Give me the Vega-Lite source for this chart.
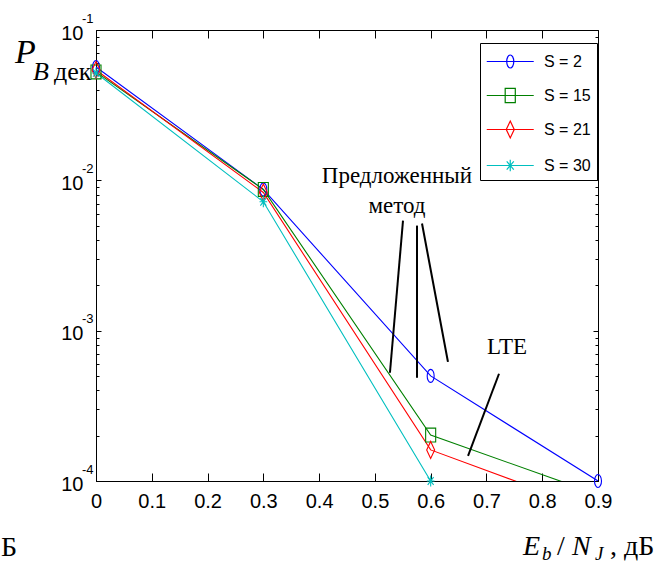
{
  "$schema": "https://vega.github.io/schema/vega-lite/v6.json",
  "width": 502,
  "height": 451,
  "autosize": "none",
  "padding": {"left": 96, "top": 30, "right": 69, "bottom": 88},
  "background": "white",
  "config": {
    "view": {"stroke": "black", "strokeWidth": 1},
    "axis": {
      "grid": false,
      "title": null,
      "domainColor": "black",
      "tickColor": "black",
      "labelColor": "black",
      "labelFont": "'Liberation Sans', Arial, sans-serif",
      "labelFontSize": 20,
      "labelFlush": false,
      "labelOverlap": false
    }
  },
  "datasets": {
    "curves": [
      {"s": "S = 2", "x": 0, "y": 0.0567},
      {"s": "S = 2", "x": 0.3, "y": 0.0087},
      {"s": "S = 2", "x": 0.6, "y": 0.0005},
      {"s": "S = 2", "x": 0.9, "y": 0.0001},
      {"s": "S = 15", "x": 0, "y": 0.0526},
      {"s": "S = 15", "x": 0.3, "y": 0.0087},
      {"s": "S = 15", "x": 0.6, "y": 0.000202},
      {"s": "S = 15", "x": 0.9, "y": 0.0000814},
      {"s": "S = 21", "x": 0, "y": 0.0542},
      {"s": "S = 21", "x": 0.3, "y": 0.0083},
      {"s": "S = 21", "x": 0.6, "y": 0.000161},
      {"s": "S = 21", "x": 0.9, "y": 0.0000627},
      {"s": "S = 30", "x": 0, "y": 0.0518},
      {"s": "S = 30", "x": 0.3, "y": 0.0072},
      {"s": "S = 30", "x": 0.6, "y": 0.0001}
    ],
    "pointers": [
      {"x1": 0.5504, "y1": 0.0054, "x2": 0.527, "y2": 0.000525},
      {"x1": 0.5755, "y1": 0.005, "x2": 0.5755, "y2": 0.000486},
      {"x1": 0.5845, "y1": 0.00516, "x2": 0.631, "y2": 0.00062},
      {"x1": 0.7225, "y1": 0.000517, "x2": 0.667, "y2": 0.000147}
    ],
    "notes": [
      {"t": "Предложенный", "x": 0.5396, "y": 0.0096},
      {"t": "метод", "x": 0.5396, "y": 0.00606},
      {"t": "LTE", "x": 0.7369, "y": 0.000699}
    ],
    "labels": [
      {"g": "P", "t": "P", "x": -0.1452, "y": 0.0603},
      {"g": "Bsub", "t": "B", "x": -0.1129, "y": 0.04649},
      {"g": "dek", "t": "дек", "x": -0.0753, "y": 0.04649},
      {"g": "bigit", "t": "E", "x": 0.7655, "y": 0.0000322},
      {"g": "bigit", "t": "N", "x": 0.8534, "y": 0.0000322},
      {"g": "smallit", "t": "b", "x": 0.7996, "y": 0.0000298},
      {"g": "smallit", "t": "J", "x": 0.8946, "y": 0.0000298},
      {"g": "reg", "t": "/", "x": 0.8265, "y": 0.0000322},
      {"g": "reg", "t": ", дБ", "x": 0.9215, "y": 0.0000322},
      {"g": "reg", "t": "Б", "x": -0.1703, "y": 0.0000317}
    ]
  },
  "resolve": {"axis": {"x": "independent", "y": "independent"}},
  "layer": [
    {
      "data": {"name": "curves"},
      "mark": {"type": "line", "clip": true, "strokeWidth": 1.1},
      "encoding": {
        "x": {"field": "x", "type": "quantitative",
          "scale": {"domain": [0, 0.9], "nice": false, "zero": false},
          "axis": {"orient": "bottom", "values": [0, 0.1, 0.2, 0.3, 0.4, 0.5, 0.6, 0.7, 0.8, 0.9], "format": "~g", "tickSize": -8, "labelPadding": 18}},
        "y": {"field": "y", "type": "quantitative",
          "scale": {"type": "log", "domain": [0.0001, 0.1], "nice": false},
          "axis": {"orient": "left", "values": [0.0001, 0.001, 0.01, 0.1], "tickSize": -5, "labelExpr": "'10'", "labelPadding": 18, "labelOffset": 3, "labelBaseline": "middle"}},
        "color": {"field": "s", "type": "nominal",
          "scale": {"domain": ["S = 2", "S = 15", "S = 21", "S = 30"], "range": ["#0000ff", "#008000", "#ff0000", "#00bfbf"]},
          "legend": {
            "orient": "none", "legendX": 384, "legendY": 13, "title": null,
            "fillColor": "white", "strokeColor": "black", "padding": 6,
            "symbolSize": 552, "symbolStrokeWidth": 1.2,
            "labelFont": "'Liberation Sans', Arial, sans-serif",
            "labelFontSize": 16, "labelColor": "black", "labelOffset": 33, "rowPadding": 12,
            "encode": {"symbols": {"update": {
              "size": {"value": 552},
              "strokeWidth": {"value": 1.2},
              "fill": {"value": "transparent"},
              "shape": {"signal": "datum.value === 'S = 2' ? 'M-1,0H3M0.7,0A0.3,0.553 0 1,0 1.3,0A0.3,0.553 0 1,0 0.7,0' : datum.value === 'S = 15' ? 'M-1,0H3M0.57,-0.6H1.43V0.6H0.57Z' : datum.value === 'S = 21' ? 'M-1,0H3M1,-0.72L1.34,0L1,0.72L0.66,0Z' : 'M-1,0H3M1,-0.5V0.5M0.7,-0.35L1.3,0.35M0.7,0.35L1.3,-0.35'"}
            }}}
          }}
      }
    },
    {
      "data": {"name": "curves"},
      "transform": [{"filter": "datum.y >= 0.0000999"}],
      "mark": {"type": "point", "filled": false, "size": 289, "strokeWidth": 1.1, "opacity": 1},
      "encoding": {
        "x": {"field": "x", "type": "quantitative",
          "scale": {"domain": [0, 0.9], "nice": false, "zero": false},
          "axis": {"orient": "top", "values": [0, 0.1, 0.2, 0.3, 0.4, 0.5, 0.6, 0.7, 0.8, 0.9], "tickSize": -8, "labels": false, "domain": false}},
        "y": {"field": "y", "type": "quantitative",
          "scale": {"type": "log", "domain": [0.0001, 0.1], "nice": false},
          "axis": {"orient": "left", "values": [0.0002, 0.0003, 0.0004, 0.0005, 0.0006, 0.0007, 0.0008, 0.0009, 0.002, 0.003, 0.004, 0.005, 0.006, 0.007, 0.008, 0.009, 0.02, 0.03, 0.04, 0.05, 0.06, 0.07, 0.08, 0.09], "tickSize": -3, "labels": false, "domain": false}},
        "color": {"field": "s", "type": "nominal",
          "scale": {"domain": ["S = 2", "S = 15", "S = 21", "S = 30"], "range": ["#0000ff", "#008000", "#ff0000", "#00bfbf"]},
          "legend": null},
        "shape": {
          "condition": [
            {"test": "datum.s === 'S = 2'", "value": "M-0.41,0A0.41,0.765 0 1,0 0.41,0A0.41,0.765 0 1,0 -0.41,0Z"},
            {"test": "datum.s === 'S = 15'", "value": "M-0.59,-0.82H0.59V0.82H-0.59Z"},
            {"test": "datum.s === 'S = 21'", "value": "M0,-1L0.47,0L0,1L-0.47,0Z"}
          ],
          "value": "M0,-0.65V0.65M-0.45,0H0.45M-0.35,-0.45L0.35,0.45M-0.35,0.45L0.35,-0.45"
        }
      }
    },
    {
      "data": {"name": "pointers"},
      "mark": {"type": "rule", "color": "black", "strokeWidth": 2},
      "encoding": {
        "x": {"field": "x1", "type": "quantitative", "scale": {"domain": [0, 0.9], "nice": false, "zero": false}, "axis": null},
        "x2": {"field": "x2"},
        "y": {"field": "y1", "type": "quantitative", "scale": {"type": "log", "domain": [0.0001, 0.1], "nice": false},
          "axis": {"orient": "right", "values": [0.0001, 0.001, 0.01, 0.1], "tickSize": -5, "labels": false, "domain": false}},
        "y2": {"field": "y2"}
      }
    },
    {
      "data": {"name": "notes"},
      "mark": {"type": "text", "font": "'Liberation Serif', 'Times New Roman', serif", "fontSize": 23, "align": "center", "baseline": "alphabetic", "color": "black"},
      "encoding": {
        "x": {"field": "x", "type": "quantitative", "scale": {"domain": [0, 0.9], "nice": false, "zero": false}, "axis": null},
        "y": {"field": "y", "type": "quantitative", "scale": {"type": "log", "domain": [0.0001, 0.1], "nice": false},
          "axis": {"orient": "right", "values": [0.0002, 0.0003, 0.0004, 0.0005, 0.0006, 0.0007, 0.0008, 0.0009, 0.002, 0.003, 0.004, 0.005, 0.006, 0.007, 0.008, 0.009, 0.02, 0.03, 0.04, 0.05, 0.06, 0.07, 0.08, 0.09], "tickSize": -3, "labels": false, "domain": false}},
        "text": {"field": "t", "type": "nominal"}
      }
    },
    {
      "data": {"name": "labels"},
      "transform": [{"filter": "datum.g === 'P'"}],
      "mark": {"type": "text", "font": "'Liberation Serif', 'Times New Roman', serif", "fontSize": 34, "fontStyle": "italic", "align": "left", "baseline": "alphabetic", "color": "black"},
      "encoding": {
        "x": {"field": "x", "type": "quantitative", "scale": {"domain": [0, 0.9], "nice": false, "zero": false}, "axis": null},
        "y": {"field": "y", "type": "quantitative", "scale": {"type": "log", "domain": [0.0001, 0.1], "nice": false},
          "axis": {"orient": "left", "values": [0.0001, 0.001, 0.01, 0.1], "ticks": false, "domain": false, "labelExpr": "'-' + round(-log(datum.value) / LN10)", "labelFontSize": 13, "labelPadding": 3, "labelOffset": -12, "labelAlign": "right", "labelBaseline": "middle"}},
        "text": {"field": "t", "type": "nominal"}
      }
    },
    {
      "data": {"name": "labels"},
      "transform": [{"filter": "datum.g === 'Bsub'"}],
      "mark": {"type": "text", "font": "'Liberation Serif', 'Times New Roman', serif", "fontSize": 26, "fontStyle": "italic", "align": "left", "baseline": "alphabetic", "color": "black"},
      "encoding": {
        "x": {"field": "x", "type": "quantitative", "scale": {"domain": [0, 0.9], "nice": false, "zero": false}, "axis": null},
        "y": {"field": "y", "type": "quantitative", "scale": {"type": "log", "domain": [0.0001, 0.1], "nice": false}, "axis": null},
        "text": {"field": "t", "type": "nominal"}
      }
    },
    {
      "data": {"name": "labels"},
      "transform": [{"filter": "datum.g === 'dek'"}],
      "mark": {"type": "text", "font": "'Liberation Serif', 'Times New Roman', serif", "fontSize": 26, "align": "left", "baseline": "alphabetic", "color": "black"},
      "encoding": {
        "x": {"field": "x", "type": "quantitative", "scale": {"domain": [0, 0.9], "nice": false, "zero": false}, "axis": null},
        "y": {"field": "y", "type": "quantitative", "scale": {"type": "log", "domain": [0.0001, 0.1], "nice": false}, "axis": null},
        "text": {"field": "t", "type": "nominal"}
      }
    },
    {
      "data": {"name": "labels"},
      "transform": [{"filter": "datum.g === 'bigit'"}],
      "mark": {"type": "text", "font": "'Liberation Serif', 'Times New Roman', serif", "fontSize": 28, "fontStyle": "italic", "align": "left", "baseline": "alphabetic", "color": "black"},
      "encoding": {
        "x": {"field": "x", "type": "quantitative", "scale": {"domain": [0, 0.9], "nice": false, "zero": false}, "axis": null},
        "y": {"field": "y", "type": "quantitative", "scale": {"type": "log", "domain": [0.0001, 0.1], "nice": false}, "axis": null},
        "text": {"field": "t", "type": "nominal"}
      }
    },
    {
      "data": {"name": "labels"},
      "transform": [{"filter": "datum.g === 'smallit'"}],
      "mark": {"type": "text", "font": "'Liberation Serif', 'Times New Roman', serif", "fontSize": 19, "fontStyle": "italic", "align": "left", "baseline": "alphabetic", "color": "black"},
      "encoding": {
        "x": {"field": "x", "type": "quantitative", "scale": {"domain": [0, 0.9], "nice": false, "zero": false}, "axis": null},
        "y": {"field": "y", "type": "quantitative", "scale": {"type": "log", "domain": [0.0001, 0.1], "nice": false}, "axis": null},
        "text": {"field": "t", "type": "nominal"}
      }
    },
    {
      "data": {"name": "labels"},
      "transform": [{"filter": "datum.g === 'reg'"}],
      "mark": {"type": "text", "font": "'Liberation Serif', 'Times New Roman', serif", "fontSize": 28, "align": "left", "baseline": "alphabetic", "color": "black"},
      "encoding": {
        "x": {"field": "x", "type": "quantitative", "scale": {"domain": [0, 0.9], "nice": false, "zero": false}, "axis": null},
        "y": {"field": "y", "type": "quantitative", "scale": {"type": "log", "domain": [0.0001, 0.1], "nice": false}, "axis": null},
        "text": {"field": "t", "type": "nominal"}
      }
    }
  ]
}
